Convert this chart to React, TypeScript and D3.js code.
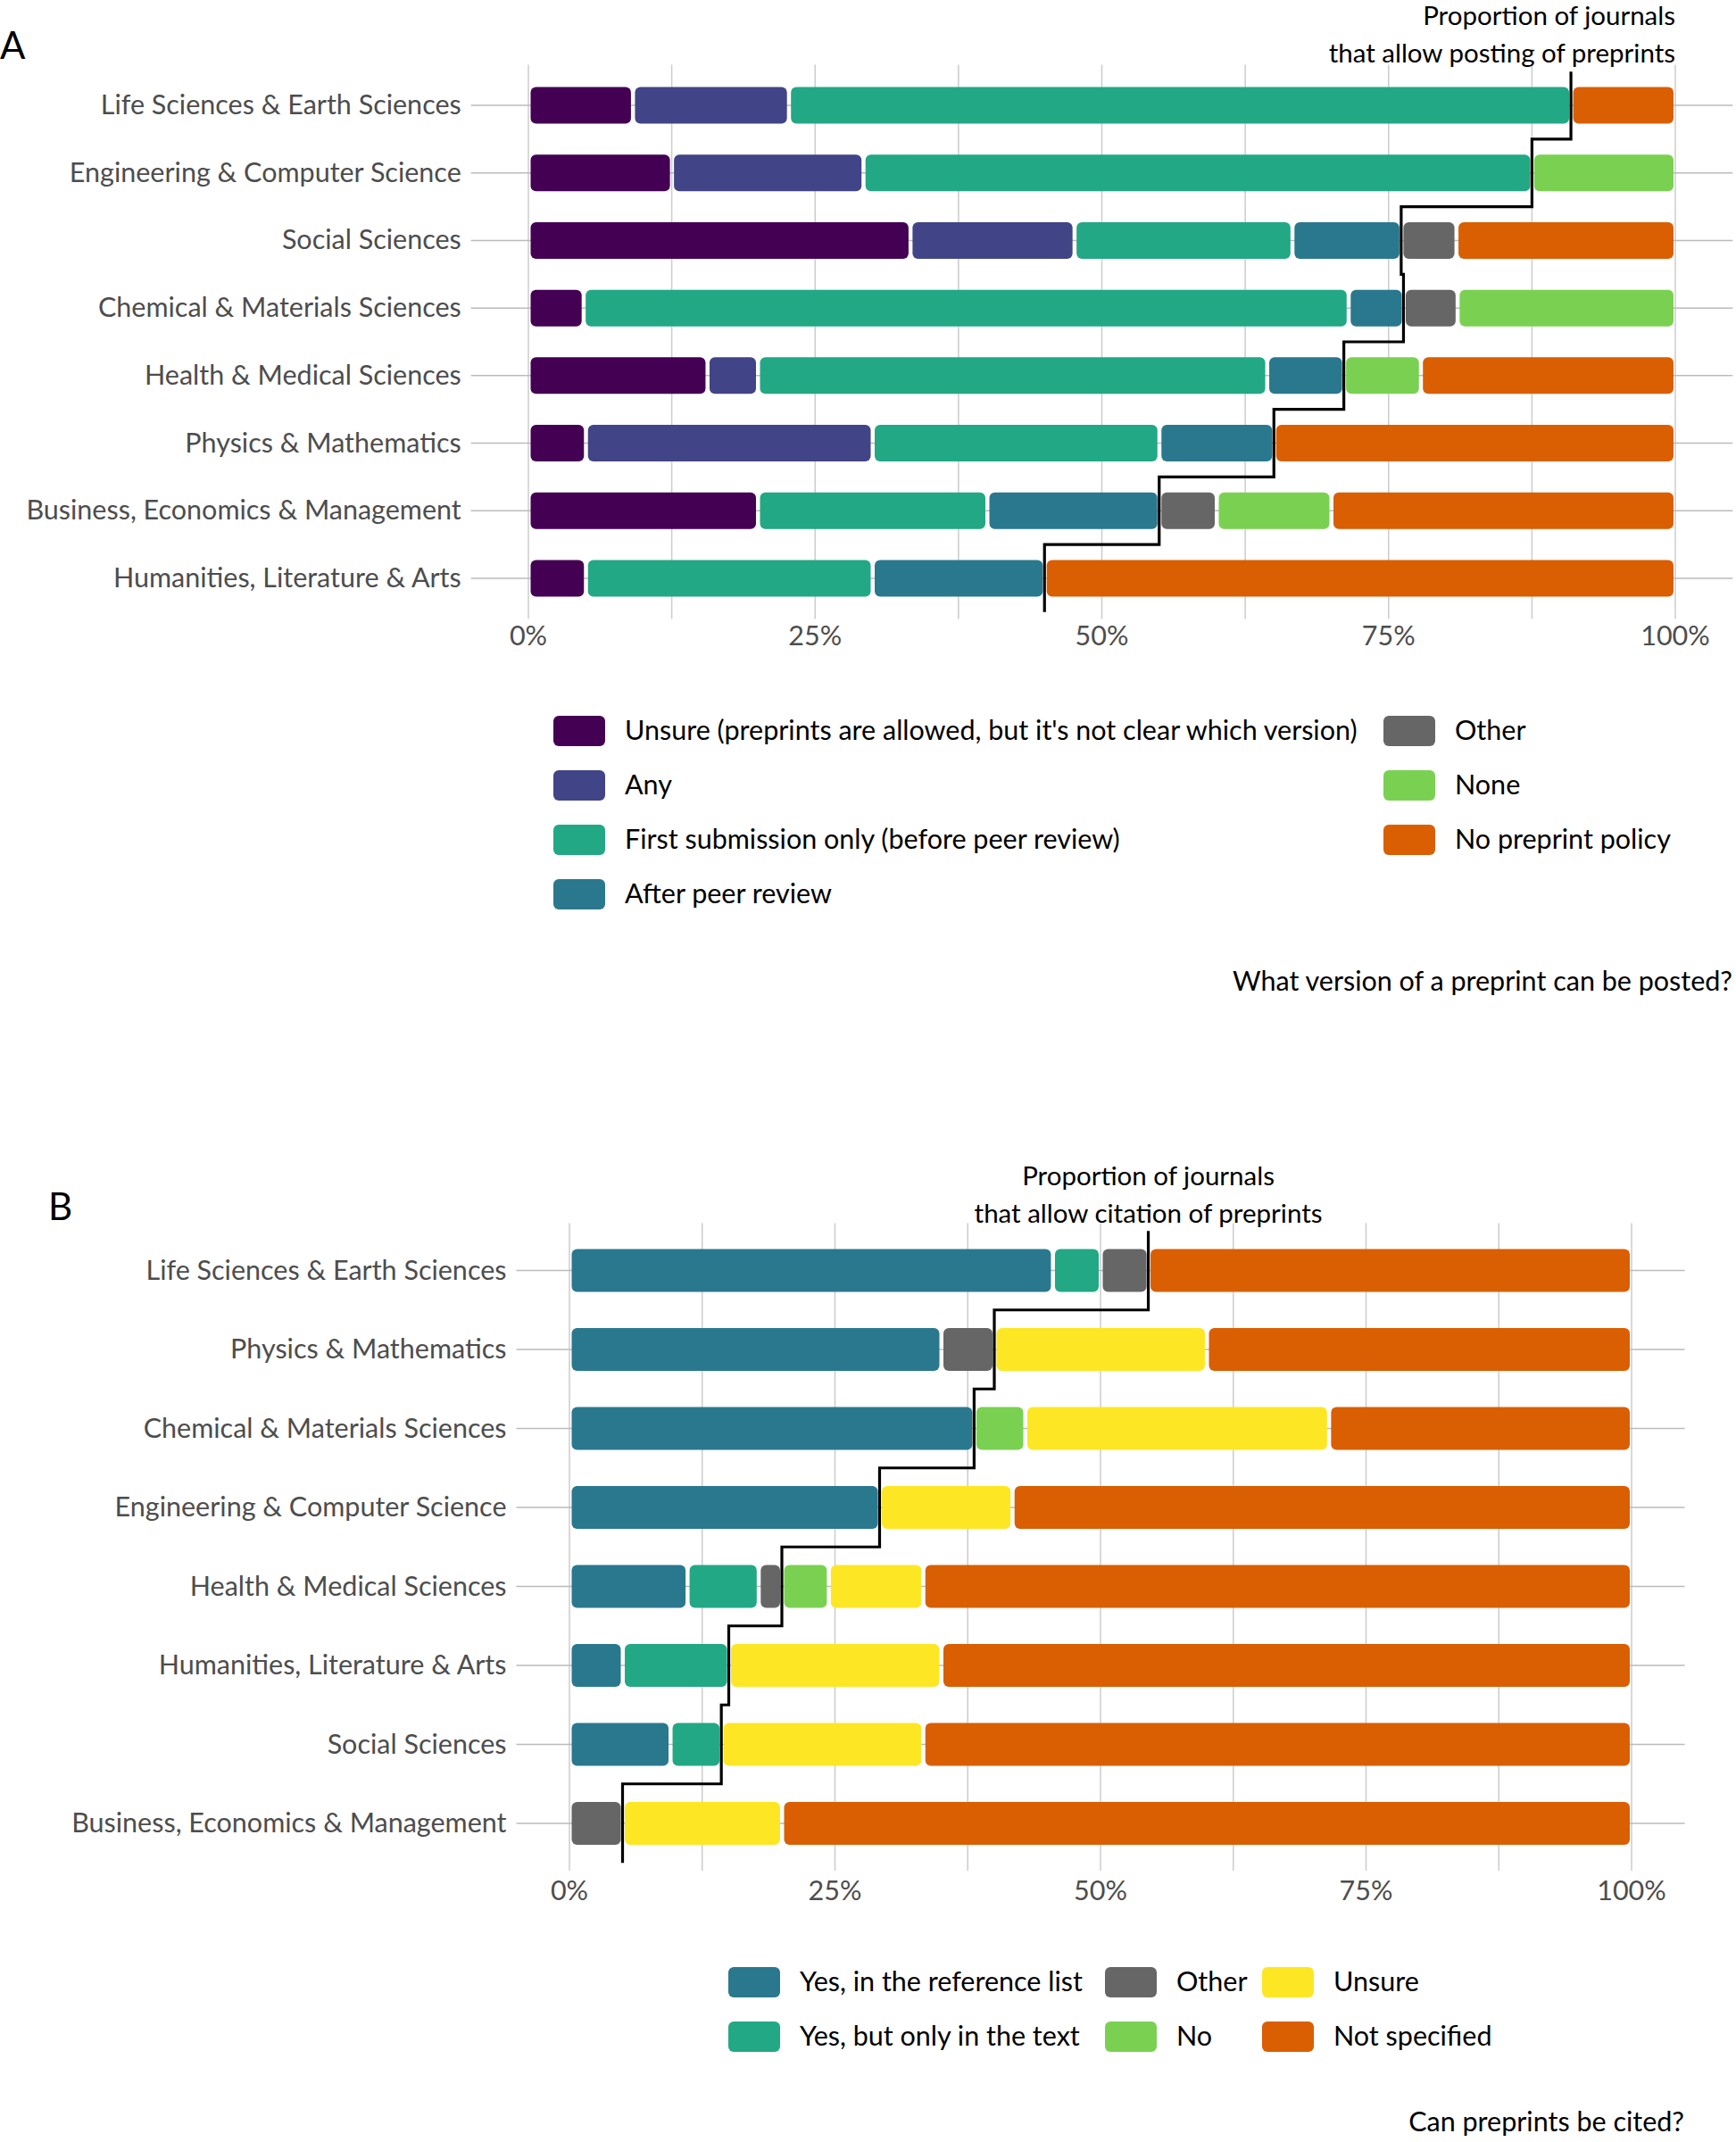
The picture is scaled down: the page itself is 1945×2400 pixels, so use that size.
import React, { useRef, useEffect } from 'react';
import * as d3 from 'd3';

// Panel A: what version of a preprint can be posted? (percent of journals)
const postingCategories = [
  "Unsure (preprints are allowed, but it's not clear which version)",
  'Any',
  'First submission only (before peer review)',
  'After peer review',
  'Other',
  'None',
  'No preprint policy',
];
const postingColors = ['#440154', '#414487', '#22A884', '#2A788E', '#666666', '#7AD151', '#D95F02'];
const postingFields = [
  'Life Sciences & Earth Sciences',
  'Engineering & Computer Science',
  'Social Sciences',
  'Chemical & Materials Sciences',
  'Health & Medical Sciences',
  'Physics & Mathematics',
  'Business, Economics & Management',
  'Humanities, Literature & Arts',
];
const postingValues = [
  [9.1, 13.6, 68.2, 0, 0, 0, 9.1],
  [12.5, 16.7, 58.3, 0, 0, 12.5, 0],
  [33.3, 14.3, 19.0, 9.5, 4.8, 0, 19.1],
  [4.8, 0, 66.7, 4.8, 4.7, 19.0, 0],
  [15.6, 4.4, 44.4, 6.7, 0, 6.7, 22.2],
  [5, 25, 25, 10, 0, 0, 35],
  [20, 0, 20, 15, 5, 10, 30],
  [5, 0, 25, 15, 0, 0, 55],
];
// categories summed for the "allow posting" step line
const postingAllowed = [0, 1, 2, 3];

// Panel B: can preprints be cited?
const citingCategories = [
  'Yes, in the reference list',
  'Yes, but only in the text',
  'Other',
  'No',
  'Unsure',
  'Not specified',
];
const citingColors = ['#2A788E', '#22A884', '#666666', '#7AD151', '#FDE725', '#D95F02'];
const citingFields = [
  'Life Sciences & Earth Sciences',
  'Physics & Mathematics',
  'Chemical & Materials Sciences',
  'Engineering & Computer Science',
  'Health & Medical Sciences',
  'Humanities, Literature & Arts',
  'Social Sciences',
  'Business, Economics & Management',
];
const citingValues = [
  [45.5, 4.5, 4.5, 0, 0, 45.5],
  [35, 0, 5, 0, 20, 40],
  [38.1, 0, 0, 4.8, 28.6, 28.5],
  [29.2, 0, 0, 0, 12.5, 58.3],
  [11.1, 6.7, 2.2, 4.4, 8.9, 66.7],
  [5, 10, 0, 0, 20, 65],
  [9.5, 4.8, 0, 0, 19.0, 66.7],
  [0, 0, 5, 0, 15, 80],
];
const citingAllowed = [0, 1, 2];

const xTicks = [0, 25, 50, 75, 100];
const xGrid = [0, 12.5, 25, 37.5, 50, 62.5, 75, 87.5, 100];

const FONT = 'Lato, "Open Sans", sans-serif';
const FS = '30.5px';

function drawPanel(g, opts) {
  const {
    fields, categories, colors, values, allowed,
    x0, x1, yFirst, yLast, barH, panelLetter, letterY,
    noteLines, noteAnchor, noteY, tickY,
    legendCols, legendRows, legendY, legendStep, title, titleX, titleY,
  } = opts;

  const x = d3.scaleLinear().domain([0, 100]).range([x0, x1]);
  const y = d3.scalePoint().domain(fields).range([yFirst, yLast]);
  const step = y.step();
  const pad = (x1 - x0) * 0.05;
  const top = yFirst - step * 0.6;
  const bottom = yLast + step * 0.6;

  // grid
  g.append('g').selectAll('line').data(xGrid).enter().append('line')
    .attr('x1', d => x(d)).attr('x2', d => x(d))
    .attr('y1', top).attr('y2', bottom)
    .attr('stroke', '#cccccc').attr('stroke-width', 1.5);
  g.append('g').selectAll('line').data(fields).enter().append('line')
    .attr('x1', x0 - pad).attr('x2', x1 + pad)
    .attr('y1', d => y(d)).attr('y2', d => y(d))
    .attr('stroke', '#bbbbbb').attr('stroke-width', 1.5);

  // stacked segments
  const rows = fields.map((f, i) => {
    let acc = 0;
    return values[i].map((v, k) => {
      const s = { start: acc, end: acc + v, color: colors[k], field: f };
      acc += v;
      return s;
    }).filter(s => s.end - s.start > 0);
  });
  g.append('g').selectAll('rect').data(rows.flat()).enter().append('rect')
    .attr('x', d => x(d.start) + 2.5)
    .attr('width', d => Math.max(1, x(d.end) - x(d.start) - 4.5))
    .attr('y', d => y(d.field) - barH / 2)
    .attr('height', barH)
    .attr('rx', 6)
    .attr('fill', d => d.color);

  // step line
  const totals = values.map(v => d3.sum(allowed, k => v[k]));
  const pts = [];
  fields.forEach((f, i) => {
    const cx = x(totals[i]);
    pts.push([cx, y(f) - step / 2]);
    pts.push([cx, y(f) + step / 2]);
  });
  g.append('path')
    .attr('d', d3.line()(pts))
    .attr('fill', 'none').attr('stroke', '#000').attr('stroke-width', 3.2);

  // note above line
  const noteX = noteAnchor === 'end' ? x1 : x(totals[0]);
  noteLines.forEach((t, i) => {
    g.append('text').text(t)
      .attr('x', noteX).attr('y', noteY + i * 42)
      .attr('text-anchor', noteAnchor)
      .style('font-size', '29.5px').style('font-family', FONT).attr('fill', '#000');
  });

  // category labels
  g.append('g').selectAll('text').data(fields).enter().append('text')
    .text(d => d)
    .attr('x', x0 - pad - 11).attr('y', d => y(d) + 10)
    .attr('text-anchor', 'end')
    .style('font-size', FS).style('font-family', FONT).attr('fill', '#4d4d4d');

  // x tick labels
  g.append('g').selectAll('text').data(xTicks).enter().append('text')
    .text(d => `${d}%`)
    .attr('x', d => x(d)).attr('y', tickY)
    .attr('text-anchor', 'middle')
    .style('font-size', FS).style('font-family', FONT).attr('fill', '#4d4d4d');

  // panel letter
  g.append('text').text(panelLetter.t)
    .attr('x', panelLetter.x).attr('y', letterY)
    .style('font-size', '42px').style('font-family', FONT).attr('fill', '#000');

  // legend, filled column-wise
  categories.forEach((c, k) => {
    const col = Math.floor(k / legendRows);
    const row = k % legendRows;
    const cy = legendY + row * legendStep;
    const kx = legendCols[col];
    g.append('rect')
      .attr('x', kx).attr('y', cy - 17).attr('width', 58).attr('height', 34)
      .attr('rx', 6).attr('fill', colors[k]);
    g.append('text').text(c)
      .attr('x', kx + 80).attr('y', cy + 10)
      .style('font-size', FS).style('font-family', FONT).attr('fill', '#000');
  });

  g.append('text').text(title)
    .attr('x', titleX).attr('y', titleY)
    .attr('text-anchor', 'end')
    .style('font-size', FS).style('font-family', FONT).attr('fill', '#000');
}

const App = () => {
  const ref = useRef(null);

  useEffect(() => {
    if (!ref.current) return;
    const svg = d3.select(ref.current);
    svg.selectAll('*').remove();
    svg.append('rect').attr('width', 1945).attr('height', 2400).attr('fill', '#fff');

    drawPanel(svg.append('g'), {
      fields: postingFields, categories: postingCategories, colors: postingColors,
      values: postingValues, allowed: postingAllowed,
      x0: 592, x1: 1877, yFirst: 118, yLast: 648, barH: 41,
      panelLetter: { t: 'A', x: 0 }, letterY: 66,
      noteLines: ['Proportion of journals', 'that allow posting of preprints'],
      noteAnchor: 'end', noteY: 28, tickY: 723,
      legendCols: [620, 1550], legendRows: 4, legendY: 819, legendStep: 61,
      title: 'What version of a preprint can be posted?', titleX: 1941, titleY: 1110,
    });

    drawPanel(svg.append('g'), {
      fields: citingFields, categories: citingCategories, colors: citingColors,
      values: citingValues, allowed: citingAllowed,
      x0: 638, x1: 1828, yFirst: 1423.5, yLast: 2043, barH: 48,
      panelLetter: { t: 'B', x: 54 }, letterY: 1367,
      noteLines: ['Proportion of journals', 'that allow citation of preprints'],
      noteAnchor: 'middle', noteY: 1328, tickY: 2129,
      legendCols: [816, 1238, 1414], legendRows: 2, legendY: 2221, legendStep: 61,
      title: 'Can preprints be cited?', titleX: 1887, titleY: 2388,
    });
  }, []);

  return (
    <svg
      ref={ref}
      width={1945}
      height={2400}
      style={{ position: 'absolute', left: 0, top: 0 }}
    />
  );
};

export default App;
